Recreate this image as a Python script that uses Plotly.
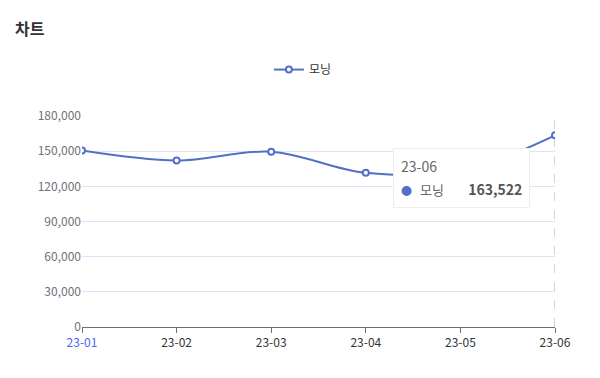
import plotly.graph_objects as go

categories = ["23-01", "23-02", "23-03", "23-04", "23-05", "23-06"]
series_name = "모닝"
values = [150500, 142000, 149500, 131500, 133000, 163522]
y_ticks = [0, 30000, 60000, 90000, 120000, 150000, 180000]

FONT = "Noto Sans CJK KR, Noto Sans, sans-serif"
LINE = "#5470c6"
idx = list(range(len(categories)))

fig = go.Figure()
fig.add_trace(go.Scatter(
    x=idx, y=values, name=series_name, mode="lines+markers",
    line=dict(color=LINE, width=2, shape="spline", smoothing=1.0),
    marker=dict(symbol="circle", size=6, color="white",
                line=dict(color=LINE, width=2)),
    hoverinfo="skip",
))

ticktext = [f'<span style="color:#4d62f5">{c}</span>' if i == 0 else c
            for i, c in enumerate(categories)]

hi = len(categories) - 1
fig.add_shape(type="line", x0=hi, x1=hi, y0=0, y1=1, xref="x", yref="paper",
              line=dict(color="#aaaaaa", width=1, dash="dash"), layer="below")

tip = (f'<span style="color:#666666;font-size:14px">{categories[hi]}</span><br>'
       f'<span style="color:{LINE};font-size:11px">●</span>  '
       f'<span style="color:#666666;font-size:13px">{series_name}</span>'
       f'      <b style="color:#555555;font-size:14px">{values[hi]:,}</b>')
fig.add_annotation(text=tip, xref="paper", yref="paper", x=0.657, y=0.848,
                   xanchor="left", yanchor="top", showarrow=False, align="left",
                   bgcolor="white", bordercolor="#eeeeee", borderwidth=1, borderpad=7,
                   font=dict(family=FONT, size=18, color="#666666"))

fig.update_layout(
    width=600, height=378,
    margin=dict(l=74, r=53, t=108, b=59),
    paper_bgcolor="white", plot_bgcolor="white",
    font=dict(family=FONT, size=12, color="#6e7079"),
    title=dict(text="<b>차트</b>", x=7/600, xanchor="left", xref="container",
               y=1 - 21/378, yanchor="middle", yref="container",
               font=dict(family=FONT, size=16, color="#333333")),
    showlegend=True,
    legend=dict(orientation="h", x=0.467, xanchor="center",
                y=1.22, yanchor="middle",
                font=dict(family=FONT, size=12, color="#333333"), itemwidth=30),
    xaxis=dict(range=[0, hi], tickvals=idx, ticktext=ticktext, showgrid=False,
               showline=True, linecolor="#6e7079", linewidth=1,
               ticks="outside", ticklen=5, tickcolor="#6e7079",
               tickfont=dict(color="#333333", size=12), zeroline=False, fixedrange=True),
    yaxis=dict(range=[0, 180000], tickvals=y_ticks, tickformat=",",
               showgrid=True, gridcolor="#e0e6f1", gridwidth=1, zeroline=False,
               showline=False, ticks="", ticklen=8, tickcolor="white",
               tickfont=dict(color="#6e7079", size=12), fixedrange=True),
)

fig.write_html("out.html")
